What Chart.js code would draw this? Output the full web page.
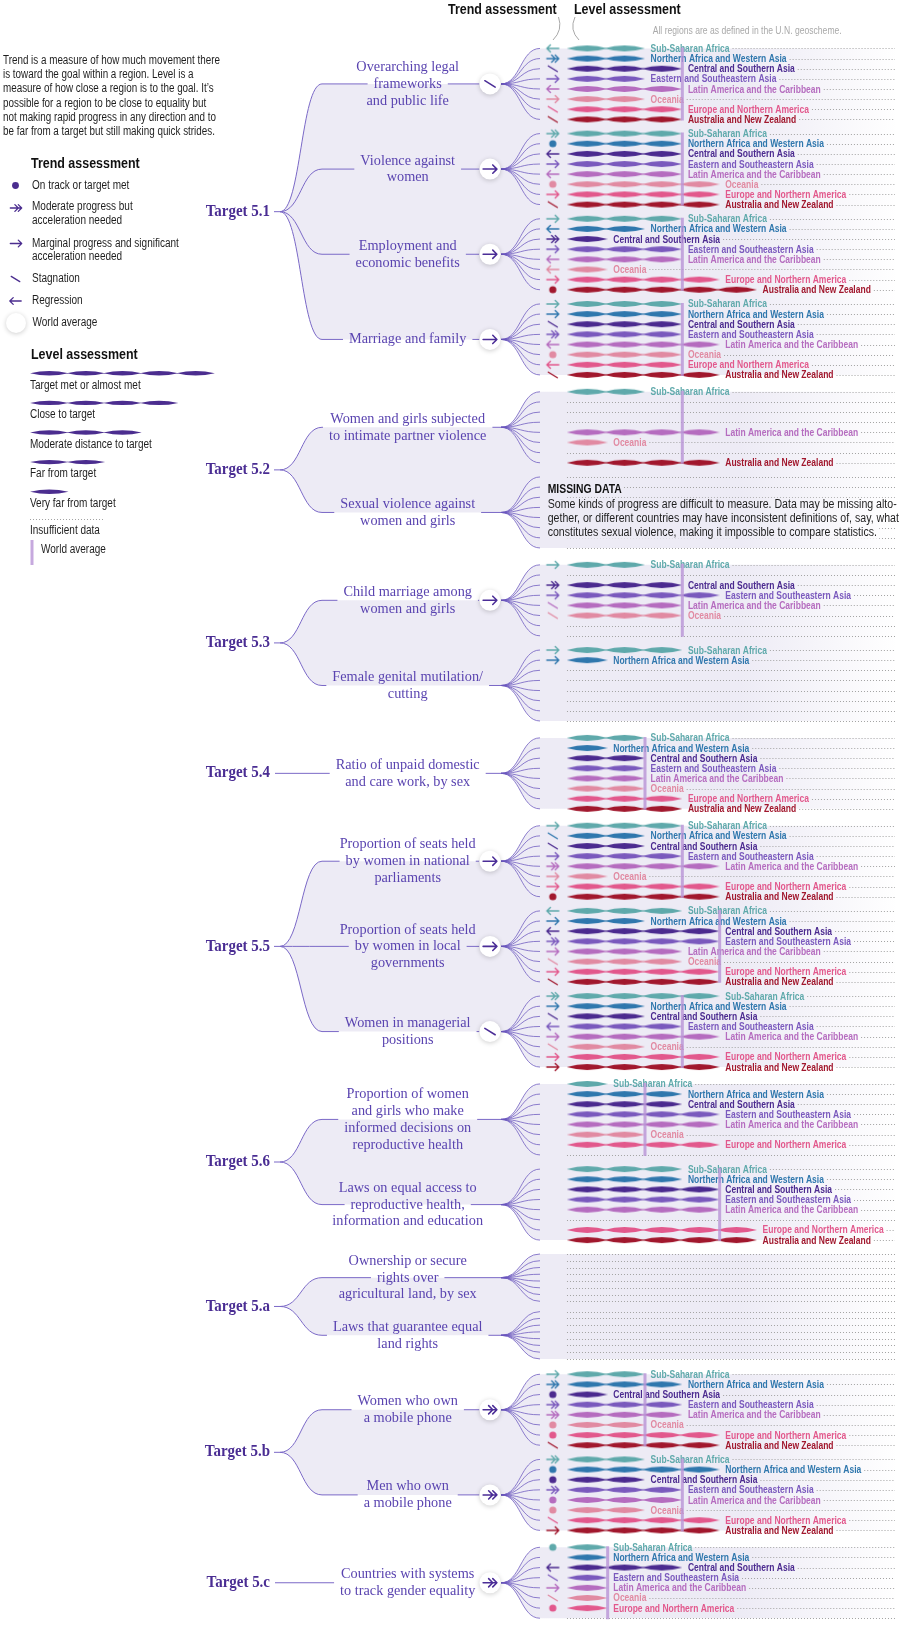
<!DOCTYPE html>
<html>
<head>
<meta charset="utf-8">
<script src="https://cdn.jsdelivr.net/npm/chart.js@4.4.1/dist/chart.umd.min.js"></script>
<style>
  body { margin: 0; background: #fff; }
  #wrap { width: 900px; height: 1630px; position: relative; }
</style>
</head>
<body>
<div id="wrap"><canvas id="chart" width="900" height="1630"></canvas></div>
<script>
// SDG 5 progress chart - trend and level assessment by region

const regions = [
    'Sub-Saharan Africa', 'Northern Africa and Western Asia', 'Central and Southern Asia',
    'Eastern and Southeastern Asia', 'Latin America and the Caribbean', 'Oceania',
    'Europe and Northern America', 'Australia and New Zealand'
]
const regionColors = ['#5fa9ab', '#2f77ad', '#4b2a8f', '#7a59bd', '#b56cbf', '#e18aa2', '#e2588c', '#a1172d']

const targets = ['Target 5.1', 'Target 5.2', 'Target 5.3', 'Target 5.4', 'Target 5.5', 'Target 5.6', 'Target 5.a', 'Target 5.b', 'Target 5.c']
const compactTargets = ['Target 5.a'] // no data at all, drawn with tighter rows

const indicatorTarget = [0, 0, 0, 0, 1, 1, 2, 2, 3, 4, 4, 4, 5, 5, 6, 6, 7, 7, 8]
const indicatorLabels = [
    ['Overarching legal', 'frameworks', 'and public life'],
    ['Violence against', 'women'],
    ['Employment and', 'economic benefits'],
    ['Marriage and family'],
    ['Women and girls subjected', 'to intimate partner violence'],
    ['Sexual violence against', 'women and girls'],
    ['Child marriage among', 'women and girls'],
    ['Female genital mutilation/', 'cutting'],
    ['Ratio of unpaid domestic', 'and care work, by sex'],
    ['Proportion of seats held', 'by women in national', 'parliaments'],
    ['Proportion of seats held', 'by women in local', 'governments'],
    ['Women in managerial', 'positions'],
    ['Proportion of women', 'and girls who make', 'informed decisions on', 'reproductive health'],
    ['Laws on equal access to', 'reproductive health,', 'information and education'],
    ['Ownership or secure', 'rights over', 'agricultural land, by sex'],
    ['Laws that guarantee equal', 'land rights'],
    ['Women who own', 'a mobile phone'],
    ['Men who own', 'a mobile phone'],
    ['Countries with systems', 'to track gender equality']
]

// level: 5 target met ... 1 very far from target, 0 insufficient data (region order as above)
const levels = [
    [2, 2, 3, 2, 3, 2, 3, 3],
    [3, 3, 3, 3, 3, 4, 4, 4],
    [3, 2, 1, 3, 3, 1, 4, 5],
    [3, 3, 3, 3, 4, 3, 3, 4],
    [2, 0, 0, 0, 4, 1, 0, 4],
    [0, 0, 0, 0, 0, 0, 0, 0],
    [2, 0, 3, 4, 3, 3, 0, 0],
    [3, 1, 0, 0, 0, 0, 0, 0],
    [2, 1, 2, 2, 2, 2, 3, 3],
    [3, 2, 2, 3, 4, 1, 4, 4],
    [3, 2, 4, 4, 3, 3, 4, 4],
    [4, 2, 2, 3, 4, 2, 4, 4],
    [1, 3, 3, 4, 4, 2, 4, 0],
    [3, 3, 4, 4, 4, 0, 5, 5],
    [0, 0, 0, 0, 0, 0, 0, 0],
    [0, 0, 0, 0, 0, 0, 0, 0],
    [2, 3, 1, 3, 3, 2, 4, 4],
    [2, 4, 2, 3, 3, 2, 4, 4],
    [1, 1, 3, 1, 1, 1, 1, 0]
]

// trend: D on track, M moderate progress, A marginal progress, S stagnation, R regression, '' none
const trends = [
    ['R', 'M', 'S', 'A', 'R', 'A', 'S', 'S'],
    ['M', 'D', 'R', 'A', 'R', 'D', 'A', 'S'],
    ['A', 'R', 'M', 'A', 'R', 'R', 'A', 'D'],
    ['A', 'A', 'S', 'M', 'R', 'D', 'R', 'S'],
    ['', '', '', '', '', '', '', ''],
    ['', '', '', '', '', '', '', ''],
    ['A', '', 'M', 'A', 'S', 'S', '', ''],
    ['A', 'A', '', '', '', '', '', ''],
    ['', '', '', '', '', '', '', ''],
    ['A', 'S', 'S', 'A', 'M', 'A', 'A', 'D'],
    ['R', 'A', 'R', 'M', 'A', 'S', 'A', 'S'],
    ['M', 'A', 'S', 'R', 'A', 'S', 'A', 'A'],
    ['', '', '', '', '', '', '', ''],
    ['', '', '', '', '', '', '', ''],
    ['', '', '', '', '', '', '', ''],
    ['', '', '', '', '', '', '', ''],
    ['A', 'M', 'D', 'M', 'M', 'D', 'D', 'S'],
    ['M', 'D', 'D', 'M', 'D', 'D', 'S', 'A'],
    ['D', '', 'R', 'S', 'A', 'S', 'D', '']
]

// world trend (circle) and world level (vertical bar) per indicator
const worldTrend = ['S', 'A', 'A', 'A', '', '', 'A', '', '', 'A', 'A', 'S', '', '', '', '', 'M', 'M', 'M']
const worldLevel = [3, 3, 3, 3, 3, null, 3, null, 2, 3, 4, 3, 2, 4, null, null, 2, 3, 1]


// Layout
const W = 900, H = 1630
const X_ORIGIN = 569.8, LENS_STEP = 37.75   // where level 0 sits, px per level
const TREND_X = -0.42                        // trend icon column, in level units
const ROW = 10.2, IND_GAP = 14.3, GROUP_GAP = 17, TOP = 43.7
const BAND = '#edebf5'
const TREE = '#7b69c7'
const LH = 16.8

let rowY = []
let cursor = TOP
let prevCompact = false
targets.forEach((t, g) => {
    let compact = compactTargets.includes(t)
    let step = compact ? ROW * 2 / 3 : ROW
    if (g > 0) cursor += compact ? 14 : (prevCompact ? 15.4 : GROUP_GAP)
    let first = true
    indicatorTarget.forEach((tg, i) => {
        if (tg !== g) return
        if (!first) cursor += compact ? 10.4 : IND_GAP
        first = false
        rowY[i] = regions.map((r, k) => cursor + k * step)
        cursor = rowY[i][7]
    })
    prevCompact = compact
})
let indY = rowY.map(r => (r[0] + r[7]) / 2)


// Small canvases used as point styles
function lensPath(g, x0, y, w, h) {
    g.moveTo(x0, y)
    g.quadraticCurveTo(x0 + w / 2, y - 2 * h, x0 + w, y)
    g.quadraticCurveTo(x0 + w / 2, y + 2 * h, x0, y)
}
function makeLens(color) {
    let c = document.createElement('canvas')
    c.width = 41
    c.height = 10
    let g = c.getContext('2d')
    g.fillStyle = color
    g.beginPath()
    lensPath(g, 0, 5, 41, 2.9)
    g.fill()
    return c
}
function drawTrend(g, code, x, y, color, s) {
    g.save()
    g.strokeStyle = color
    g.fillStyle = color
    g.lineWidth = 1.35 * s
    g.lineCap = 'round'
    g.lineJoin = 'round'
    g.beginPath()
    if (code === 'D') {
        g.arc(x, y, 3.6 * s, 0, Math.PI * 2)
        g.fill()
    } else if (code === 'S') {
        g.moveTo(x - 4.5 * s, y - 2.8 * s)
        g.lineTo(x + 4.5 * s, y + 2.8 * s)
        g.stroke()
    } else {
        let d = code === 'R' ? -1 : 1
        g.moveTo(x - 6 * s * d, y)
        g.lineTo(x + 6 * s * d, y)
        g.moveTo(x + 2.4 * s * d, y - 3.6 * s)
        g.lineTo(x + 6 * s * d, y)
        g.lineTo(x + 2.4 * s * d, y + 3.6 * s)
        if (code === 'M') {
            g.moveTo(x - 1.2 * s * d, y - 3.6 * s)
            g.lineTo(x + 2.4 * s * d, y)
            g.lineTo(x - 1.2 * s * d, y + 3.6 * s)
        }
        g.stroke()
    }
    g.restore()
}
let iconCache = {}
function trendIcon(code, color) {
    let key = code + color
    if (!iconCache[key]) {
        let c = document.createElement('canvas')
        c.width = 18
        c.height = 12
        drawTrend(c.getContext('2d'), code, 9, 6, color, 1)
        iconCache[key] = c
    }
    return iconCache[key]
}


// Datasets
let datasets = []

worldLevel.forEach((lv, i) => {
    if (lv === null) return
    datasets.push({
        data: [{x: lv + 0.05, y: rowY[i][0] - 1}, {x: lv + 0.05, y: rowY[i][7] + 1}],
        showLine: true,
        borderColor: 'rgba(184,148,214,0.8)',
        borderWidth: 3,
        pointRadius: 0,
        order: 0
    })
})

regions.forEach((name, r) => {
    let lensData = []
    let trendData = []
    let trendStyles = []
    levels.forEach((row, i) => {
        for (let k = 0; k < row[r]; k++) lensData.push({x: k + 0.5, y: rowY[i][r]})
        if (trends[i][r]) {
            trendData.push({x: TREND_X, y: rowY[i][r]})
            trendStyles.push(trendIcon(trends[i][r], regionColors[r]))
        }
    })
    datasets.push({
        label: name,
        data: lensData,
        pointStyle: makeLens(regionColors[r]),
        pointRadius: 4,
        order: 2
    })
    datasets.push({
        label: name + ' trend',
        data: trendData,
        pointStyle: trendStyles,
        pointRadius: 4,
        order: 1
    })
})


// Text helpers (horizontal squeeze to get condensed faces)
let measure = document.createElement('canvas').getContext('2d')
function textStyle(font, color, sample, width) {
    measure.font = font
    return {font: font, color: color, sx: width / measure.measureText(sample).width}
}
const SANS = '"Liberation Sans", Arial, sans-serif'
const SERIF = '"Liberation Serif", "Times New Roman", serif'
const st = {
    para: textStyle('12px ' + SANS, '#1e1e1e', 'Trend is a measure of how much movement there', 217),
    item: textStyle('12px ' + SANS, '#1e1e1e', 'Moderate progress but', 100.7),
    head: textStyle('bold 15.5px ' + SANS, '#111', 'Trend assessment', 108.7),
    region: textStyle('bold 11px ' + SANS, '#000', 'Northern Africa and Western Asia', 136),
    note: textStyle('10.5px ' + SANS, '#a9a9a9', 'All regions are as defined in the U.N. geoscheme.', 189),
    missHead: textStyle('bold 12px ' + SANS, '#111', 'MISSING DATA', 74),
    missBody: textStyle('12px ' + SANS, '#1e1e1e', 'Some kinds of progress are difficult to measure. Data may be missing alto-', 349),
    ind: textStyle('15px ' + SERIF, '#5a44b0', 'Overarching legal', 102.7),
    target: textStyle('bold 16px ' + SERIF, '#4a2d93', 'Target 5.1', 64.3)
}
function text(ctx, str, x, y, style, align, color) {
    ctx.save()
    ctx.font = style.font
    ctx.fillStyle = color || style.color
    ctx.textBaseline = 'middle'
    ctx.textAlign = 'left'
    let w = ctx.measureText(str).width * style.sx
    let left = align === 'center' ? x - w / 2 : (align === 'right' ? x - w : x)
    ctx.translate(left, y)
    ctx.scale(style.sx, 1)
    ctx.fillText(str, 0, 0)
    ctx.restore()
    return {left: left, right: left + w}
}
function textWidth(ctx, str, style) {
    ctx.save()
    ctx.font = style.font
    let w = ctx.measureText(str).width * style.sx
    ctx.restore()
    return w
}
function link(ctx, x0, y0, x1, y1, move) {
    let m = (x0 + x1) / 2
    if (move) ctx.moveTo(x0, y0)
    ctx.bezierCurveTo(m, y0, m, y1, x1, y1)
}
function dotted(ctx, x0, x1, y) {
    ctx.save()
    ctx.strokeStyle = '#a3a3a3'
    ctx.lineWidth = 1
    ctx.setLineDash([1, 2])
    ctx.beginPath()
    ctx.moveTo(x0, Math.round(y) + 0.5)
    ctx.lineTo(x1, Math.round(y) + 0.5)
    ctx.stroke()
    ctx.restore()
}
function whiteCircle(ctx, x, y, r) {
    ctx.save()
    ctx.shadowColor = 'rgba(0,0,0,0.2)'
    ctx.shadowBlur = 5
    ctx.shadowOffsetY = 1
    ctx.fillStyle = '#fff'
    ctx.beginPath()
    ctx.arc(x, y, r, 0, Math.PI * 2)
    ctx.fill()
    ctx.restore()
}


// Everything that is not a data mark: bands, tree, labels, legend
const BR_X0 = 280, BR_X1 = 322, LABEL_X = 407.7, CIRCLE_X = 490, CIRCLE_R = 10.5
const FAN_X0 = 501, FAN_X1 = 540

const decor = {
    id: 'decor',
    beforeDatasetsDraw(chart) {
        let ctx = chart.ctx
        let xs = chart.scales.x
        let ys = chart.scales.y
        let px = v => xs.getPixelForValue(v)
        let py = v => ys.getPixelForValue(v)
        let right = chart.chartArea.right

        let grad = ctx.createLinearGradient(740, 0, 898, 0)
        grad.addColorStop(0, BAND)
        grad.addColorStop(1, '#ffffff')
        chart.$bandFill = grad

        // bands
        targets.forEach((t, g) => {
            let inds = indicatorTarget.map((tg, i) => tg === g ? i : -1).filter(i => i >= 0)
            let a = inds[0], b = inds[inds.length - 1]
            let ty = py((indY[a] + indY[b]) / 2)
            ctx.save()
            ctx.fillStyle = grad
            ctx.beginPath()
            if (inds.length > 1) {
                ctx.moveTo(BR_X0, ty)
                link(ctx, BR_X0, ty, BR_X1, py(indY[a]))
                ctx.lineTo(FAN_X0, py(indY[a]))
            } else {
                ctx.moveTo(FAN_X0, py(indY[a]))
            }
            link(ctx, FAN_X0, py(indY[a]), FAN_X1, py(rowY[a][0]))
            ctx.lineTo(right, py(rowY[a][0]))
            ctx.lineTo(right, py(rowY[b][7]))
            ctx.lineTo(FAN_X1, py(rowY[b][7]))
            link(ctx, FAN_X1, py(rowY[b][7]), FAN_X0, py(indY[b]))
            if (inds.length > 1) {
                ctx.lineTo(BR_X1, py(indY[b]))
                link(ctx, BR_X1, py(indY[b]), BR_X0, ty)
            }
            ctx.closePath()
            ctx.fill()
            ctx.restore()

            // target label and branches
            let tl = text(ctx, t, 270, ty, st.target, 'right')
            ctx.save()
            ctx.strokeStyle = TREE
            ctx.lineWidth = 1
            ctx.beginPath()
            if (inds.length > 1) {
                ctx.moveTo(tl.right + 4, ty)
                ctx.lineTo(BR_X0, ty)
                inds.forEach(i => link(ctx, BR_X0, ty, BR_X1, py(indY[i]), true))
            }
            ctx.stroke()
            ctx.restore()

            inds.forEach(i => {
                let y = py(indY[i])
                let lines = indicatorLabels[i]
                let half = 0
                lines.forEach((ln, j) => {
                    let ly = y + (j - (lines.length - 1) / 2) * LH
                    text(ctx, ln, LABEL_X, ly, st.ind, 'center')
                    if (Math.abs(ly - y) <= LH / 2 + 0.1) half = Math.max(half, textWidth(ctx, ln, st.ind) / 2)
                })
                let startX = inds.length > 1 ? BR_X1 : tl.right + 5
                let endX = worldTrend[i] ? CIRCLE_X - CIRCLE_R : FAN_X0
                ctx.save()
                ctx.strokeStyle = TREE
                ctx.lineWidth = 1
                ctx.beginPath()
                ctx.moveTo(startX, y)
                ctx.lineTo(LABEL_X - half - 6, y)
                if (LABEL_X + half + 6 < endX) {
                    ctx.moveTo(LABEL_X + half + 6, y)
                    ctx.lineTo(endX, y)
                }
                ctx.stroke()
                // fan to the regions
                ctx.strokeStyle = 'rgba(105,85,190,0.75)'
                ctx.beginPath()
                rowY[i].forEach(ry => link(ctx, FAN_X0, y, FAN_X1, py(ry), true))
                ctx.stroke()
                ctx.restore()
                if (worldTrend[i]) {
                    whiteCircle(ctx, CIRCLE_X, y, CIRCLE_R)
                    drawTrend(ctx, worldTrend[i], CIRCLE_X, y, '#4b2d97', 1.15)
                }
            })
        })

        // region labels and dotted leaders
        levels.forEach((row, i) => {
            row.forEach((lv, r) => {
                let y = py(rowY[i][r])
                if (lv > 0) {
                    let lb = text(ctx, regions[r], px(lv + 0.2), y + 0.5, st.region, 'left', regionColors[r])
                    dotted(ctx, lb.right + 3, right, y)
                } else {
                    dotted(ctx, px(-0.04), right, y)
                }
            })
        })

        // header
        text(ctx, 'Trend assessment', 448, 10, st.head, 'left')
        text(ctx, 'Level assessment', 574, 10, st.head, 'left')
        ctx.save()
        ctx.strokeStyle = '#a8a8a8'
        ctx.lineWidth = 1
        ctx.beginPath()
        ctx.moveTo(558.5, 17)
        ctx.quadraticCurveTo(563, 30, 553, 40)
        ctx.moveTo(575, 17)
        ctx.quadraticCurveTo(569, 30, 579, 40)
        ctx.stroke()
        ctx.restore()
        text(ctx, 'All regions are as defined in the U.N. geoscheme.', 652.7, 31, st.note, 'left')

        // left legend
        let para = [
            'Trend is a measure of how much movement there',
            'is toward the goal within a region. Level is a',
            'measure of how close a region is to the goal. It\u2019s',
            'possible for a region to be close to equality but',
            'not making rapid progress in any direction and to',
            'be far from a target but still making quick strides.'
        ]
        para.forEach((ln, j) => text(ctx, ln, 3, 60.7 + j * 14.2, st.para, 'left'))

        let legendColor = '#4b2d8f'
        text(ctx, 'Trend assessment', 31, 163.3, st.head, 'left')
        drawTrend(ctx, 'D', 15.5, 185.5, legendColor, 0.95)
        text(ctx, 'On track or target met', 32, 185.3, st.item, 'left')
        drawTrend(ctx, 'M', 16, 208, legendColor, 0.95)
        text(ctx, 'Moderate progress but', 32, 206.7, st.item, 'left')
        text(ctx, 'acceleration needed', 32, 220.7, st.item, 'left')
        drawTrend(ctx, 'A', 16, 243.5, legendColor, 0.95)
        text(ctx, 'Marginal progress and significant', 32, 243.3, st.item, 'left')
        text(ctx, 'acceleration needed', 32, 257, st.item, 'left')
        drawTrend(ctx, 'S', 15.5, 279, legendColor, 0.95)
        text(ctx, 'Stagnation', 32, 278.7, st.item, 'left')
        drawTrend(ctx, 'R', 15.5, 301, legendColor, 0.95)
        text(ctx, 'Regression', 32, 300.7, st.item, 'left')
        whiteCircle(ctx, 16, 323, 10)
        text(ctx, 'World average', 32.5, 322.7, st.item, 'left')

        text(ctx, 'Level assessment', 31, 354.3, st.head, 'left')
        let levelNames = ['Target met or almost met', 'Close to target', 'Moderate distance to target', 'Far from target', 'Very far from target']
        levelNames.forEach((nm, j) => {
            let y = 373.3 + j * 29.6
            ctx.save()
            ctx.fillStyle = legendColor
            ctx.beginPath()
            for (let k = 0; k < 5 - j; k++) lensPath(ctx, 30 + k * 36.6, y, 38.5, 2.2)
            ctx.fill()
            ctx.restore()
            text(ctx, nm, 30, y + 12, st.item, 'left')
        })
        dotted(ctx, 30, 105, 519)
        text(ctx, 'Insufficient data', 30, 531, st.item, 'left')
        ctx.save()
        ctx.fillStyle = 'rgba(184,148,214,0.8)'
        ctx.fillRect(30.5, 540, 3, 25)
        ctx.restore()
        text(ctx, 'World average', 41, 550, st.item, 'left')
    },
    afterDatasetsDraw(chart) {
        let ctx = chart.ctx
        let lines = [
            ['MISSING DATA', st.missHead, 489.3],
            ['Some kinds of progress are difficult to measure. Data may be missing alto-', st.missBody, 504.3],
            ['gether, or different countries may have inconsistent definitions of, say, what', st.missBody, 518.3],
            ['constitutes sexual violence, making it impossible to compare statistics.', st.missBody, 532.3]
        ]
        lines.forEach(([s, style, y]) => {
            let w = textWidth(ctx, s, style)
            ctx.save()
            ctx.fillStyle = chart.$bandFill
            ctx.fillRect(545, y - 6.5, w + 5, 13)
            ctx.restore()
            text(ctx, s, 547.7, y, style, 'left')
        })
    }
}

let sdgChart = new Chart(document.getElementById('chart').getContext('2d'), {
    type: 'scatter',
    data: {datasets: datasets},
    options: {
        responsive: false,
        animation: false,
        events: [],
        layout: {padding: 0},
        scales: {
            x: {type: 'linear', display: false, min: -X_ORIGIN / LENS_STEP, max: (W - X_ORIGIN) / LENS_STEP},
            y: {type: 'linear', display: false, min: 0, max: H, reverse: true}
        },
        plugins: {
            legend: {display: false},
            tooltip: {enabled: false}
        }
    },
    plugins: [decor]
})
</script>
</body>
</html>
